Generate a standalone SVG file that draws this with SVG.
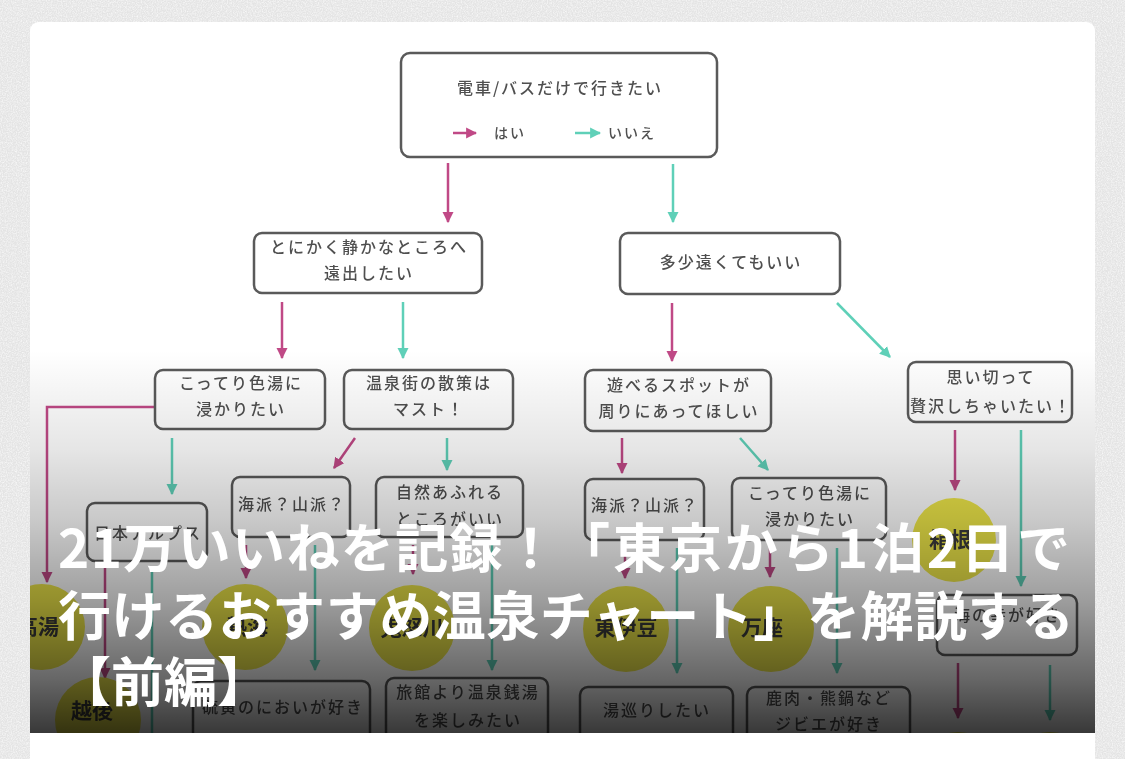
<svg xmlns="http://www.w3.org/2000/svg" width="1125" height="759" viewBox="0 0 1125 759">
<style>
.box{fill:#fff;stroke:#5a5a5a;stroke-width:2.5}
.t{font-family:"Noto Sans CJK JP","Noto Sans",sans-serif;font-size:16px;font-weight:500;fill:#505050;letter-spacing:2px;text-anchor:middle}
.lg{font-family:"Noto Sans CJK JP","Noto Sans",sans-serif;font-size:14px;font-weight:500;fill:#505050;letter-spacing:2px}
.ball{fill:#efe84a}
.bt{font-family:"Noto Sans CJK JP","Noto Sans",sans-serif;font-size:21px;font-weight:700;fill:#3a3a3a;text-anchor:middle}
.pk{fill:none;stroke:#c04a86;stroke-width:2.5;marker-end:url(#ap)}
.tl{fill:none;stroke:#5fd0b8;stroke-width:2.5;marker-end:url(#at)}
.tln{fill:none;stroke:#5fd0b8;stroke-width:2.5}
.title{font-family:"Noto Sans CJK JP","Noto Sans",sans-serif;font-size:53px;font-weight:700;fill:#fff}
</style>
<defs>
<marker id="ap" viewBox="0 0 10 10" refX="9" refY="5" markerWidth="11" markerHeight="12" markerUnits="userSpaceOnUse" orient="auto"><path d="M0,0 L10,5 L0,10 Z" fill="#c04a86"/></marker>
<marker id="at" viewBox="0 0 10 10" refX="9" refY="5" markerWidth="11" markerHeight="12" markerUnits="userSpaceOnUse" orient="auto"><path d="M0,0 L10,5 L0,10 Z" fill="#5fd0b8"/></marker>
<clipPath id="img"><path d="M30,733 V32 Q30,22 40,22 H1085 Q1095,22 1095,32 V733 Z"/></clipPath>
<linearGradient id="shade" gradientUnits="userSpaceOnUse" x1="0" y1="350" x2="0" y2="733">
<stop offset="0" stop-color="#000" stop-opacity="0"/>
<stop offset="0.26" stop-color="#000" stop-opacity="0.1"/>
<stop offset="0.44" stop-color="#000" stop-opacity="0.21"/>
<stop offset="0.65" stop-color="#000" stop-opacity="0.38"/>
<stop offset="0.86" stop-color="#000" stop-opacity="0.6"/>
<stop offset="1" stop-color="#000" stop-opacity="0.78"/>
</linearGradient>
<filter id="noise" x="0" y="0" width="100%" height="100%">
<feTurbulence type="fractalNoise" baseFrequency="0.8" numOctaves="2" seed="4"/>
<feColorMatrix type="matrix" values="0 0 0 0 1  0 0 0 0 1  0 0 0 0 1  1.4 0 0 0 -0.5"/>
</filter>
<filter id="soft"><feGaussianBlur stdDeviation="0.5"/></filter>
</defs>

<rect width="1125" height="759" fill="#e4e4e4"/>
<rect width="1125" height="759" filter="url(#noise)"/>
<rect x="30" y="22" width="1065" height="770" rx="10" fill="#fff"/>

<g clip-path="url(#img)">
<rect x="30" y="22" width="1065" height="711" fill="#fff"/>
<g filter="url(#soft)">
<g id="connectors">
<line class="pk" x1="448" y1="163" x2="448" y2="222"/>
<line class="tl" x1="673" y1="164" x2="673" y2="222"/>
<line class="pk" x1="282" y1="302" x2="282" y2="358"/>
<line class="tl" x1="403" y1="302" x2="403" y2="358"/>
<line class="pk" x1="672" y1="303" x2="672" y2="361"/>
<line class="tl" x1="837" y1="303" x2="890" y2="357"/>
<polyline class="pk" points="155,407 47,407 47,582"/>
<line class="tl" x1="172" y1="438" x2="172" y2="494"/>
<line class="pk" x1="355" y1="438" x2="334" y2="468"/>
<line class="tl" x1="447" y1="438" x2="447" y2="470"/>
<line class="pk" x1="622" y1="438" x2="622" y2="473"/>
<line class="tl" x1="740" y1="438" x2="768" y2="470"/>
<line class="pk" x1="955" y1="430" x2="955" y2="490"/>
<line class="tl" x1="1021" y1="430" x2="1021" y2="586"/>
<line class="pk" x1="105" y1="568" x2="105" y2="678"/>
<line class="tln" x1="152" y1="568" x2="152" y2="740"/>
<line class="pk" x1="246" y1="545" x2="246" y2="578"/>
<line class="tl" x1="315" y1="545" x2="315" y2="670"/>
<line class="pk" x1="413" y1="545" x2="413" y2="574"/>
<line class="tl" x1="492" y1="545" x2="492" y2="670"/>
<line class="pk" x1="625" y1="548" x2="625" y2="578"/>
<line class="tl" x1="677" y1="548" x2="677" y2="673"/>
<line class="pk" x1="770" y1="548" x2="770" y2="577"/>
<line class="tl" x1="837" y1="548" x2="837" y2="673"/>
<line class="pk" x1="958" y1="663" x2="958" y2="718"/>
<line class="tl" x1="1050" y1="665" x2="1050" y2="720"/>
</g>

<g id="n-start">
<rect class="box" x="401" y="53" width="316" height="104" rx="9"/>
<text class="t" x="560" y="94">電車/バスだけで行きたい</text>
<line class="pk" x1="453" y1="133" x2="476" y2="133"/>
<text class="lg" x="494" y="138">はい</text>
<line class="tl" x1="575" y1="133" x2="600" y2="133"/>
<text class="lg" x="608" y="138">いいえ</text>
</g>
<g id="n-quiet">
<rect class="box" x="254" y="233" width="228" height="60" rx="8"/>
<text class="t" x="369" y="253">とにかく静かなところへ</text>
<text class="t" x="369" y="279">遠出したい</text>
</g>
<g id="n-far">
<rect class="box" x="620" y="233" width="220" height="61" rx="8"/>
<text class="t" x="731" y="268">多少遠くてもいい</text>
</g>
<g id="n-kotteri1">
<rect class="box" x="155" y="370" width="170" height="59" rx="8"/>
<text class="t" x="241" y="389">こってり色湯に</text>
<text class="t" x="241" y="415">浸かりたい</text>
</g>
<g id="n-sansaku">
<rect class="box" x="344" y="370" width="169" height="59" rx="8"/>
<text class="t" x="429" y="389">温泉街の散策は</text>
<text class="t" x="429" y="415">マスト！</text>
</g>
<g id="n-asobi">
<rect class="box" x="585" y="370" width="186" height="61" rx="8"/>
<text class="t" x="679" y="391">遊べるスポットが</text>
<text class="t" x="679" y="417">周りにあってほしい</text>
</g>
<g id="n-zeitaku">
<rect class="box" x="908" y="362" width="164" height="60" rx="8"/>
<text class="t" x="991" y="383">思い切って</text>
<text class="t" x="991" y="412">贅沢しちゃいたい！</text>
</g>
<g id="n-alps">
<rect class="box" x="87" y="503" width="120" height="58" rx="8"/>
<text class="t" x="148" y="539">日本アルプス</text>
</g>
<g id="n-umiyama1">
<rect class="box" x="232" y="477" width="118" height="60" rx="8"/>
<text class="t" x="292" y="510">海派？山派？</text>
</g>
<g id="n-shizen">
<rect class="box" x="376" y="477" width="147" height="60" rx="8"/>
<text class="t" x="450" y="498">自然あふれる</text>
<text class="t" x="450" y="525">ところがいい</text>
</g>
<g id="n-umiyama2">
<rect class="box" x="585" y="479" width="119" height="61" rx="8"/>
<text class="t" x="645" y="511">海派？山派？</text>
</g>
<g id="n-kotteri2">
<rect class="box" x="732" y="478" width="154" height="62" rx="8"/>
<text class="t" x="810" y="499">こってり色湯に</text>
<text class="t" x="810" y="525">浸かりたい</text>
</g>
<g id="n-umi">
<rect class="box" x="937" y="595" width="140" height="60" rx="8"/>
<text class="t" x="1008" y="621">海の幸が好き</text>
</g>
<g id="n-iou">
<rect class="box" x="193" y="681" width="177" height="62" rx="8"/>
<text class="t" x="283" y="713">硫黄のにおいが好き</text>
</g>
<g id="n-sento">
<rect class="box" x="386" y="678" width="162" height="62" rx="8"/>
<text class="t" x="468" y="698">旅館より温泉銭湯</text>
<text class="t" x="468" y="726">を楽しみたい</text>
</g>
<g id="n-yumeguri">
<rect class="box" x="580" y="687" width="153" height="60" rx="8"/>
<text class="t" x="657" y="716">湯巡りしたい</text>
</g>
<g id="n-jibie">
<rect class="box" x="747" y="687" width="163" height="60" rx="8"/>
<text class="t" x="829" y="704">鹿肉・熊鍋など</text>
<text class="t" x="829" y="730">ジビエが好き</text>
</g>

<g id="c-takayu"><circle class="ball" cx="42" cy="627" r="43"/><text class="bt" x="38" y="634">高湯</text></g>
<g id="c-echigo"><circle class="ball" cx="98" cy="720" r="43"/><text class="bt" x="92" y="718">越後</text></g>
<g id="c-atami"><circle class="ball" cx="245" cy="627" r="43"/><text class="bt" x="247" y="634">熱海</text></g>
<g id="c-kinugawa"><circle class="ball" cx="412" cy="628" r="43"/><text class="bt" x="412" y="635">鬼怒川</text></g>
<g id="c-higashiizu"><circle class="ball" cx="626" cy="629" r="43"/><text class="bt" x="626" y="635">東伊豆</text></g>
<g id="c-manza"><circle class="ball" cx="771" cy="629" r="43"/><text class="bt" x="762" y="635">万座</text></g>
<g id="c-hakone"><circle class="ball" cx="954" cy="540" r="42"/><text class="bt" x="950" y="547">箱根</text></g>
<g id="c-b1"><circle class="ball" cx="958" cy="775" r="43"/></g>
<g id="c-b2"><circle class="ball" cx="1050" cy="775" r="43"/></g>
</g>
<rect x="30" y="22" width="1065" height="711" fill="url(#shade)"/>
</g>

<g id="title">
<text class="title" x="58" y="568" textLength="499" lengthAdjust="spacing">21万いいねを記録！</text>
<text class="title" x="557" y="568" textLength="513" lengthAdjust="spacing">「東京から1泊2日で</text>
<text class="title" x="58" y="636" textLength="1016" lengthAdjust="spacing">行けるおすすめ温泉チャート」を解説する</text>
<text class="title" x="58" y="702">【前編】</text>
</g>
</svg>
